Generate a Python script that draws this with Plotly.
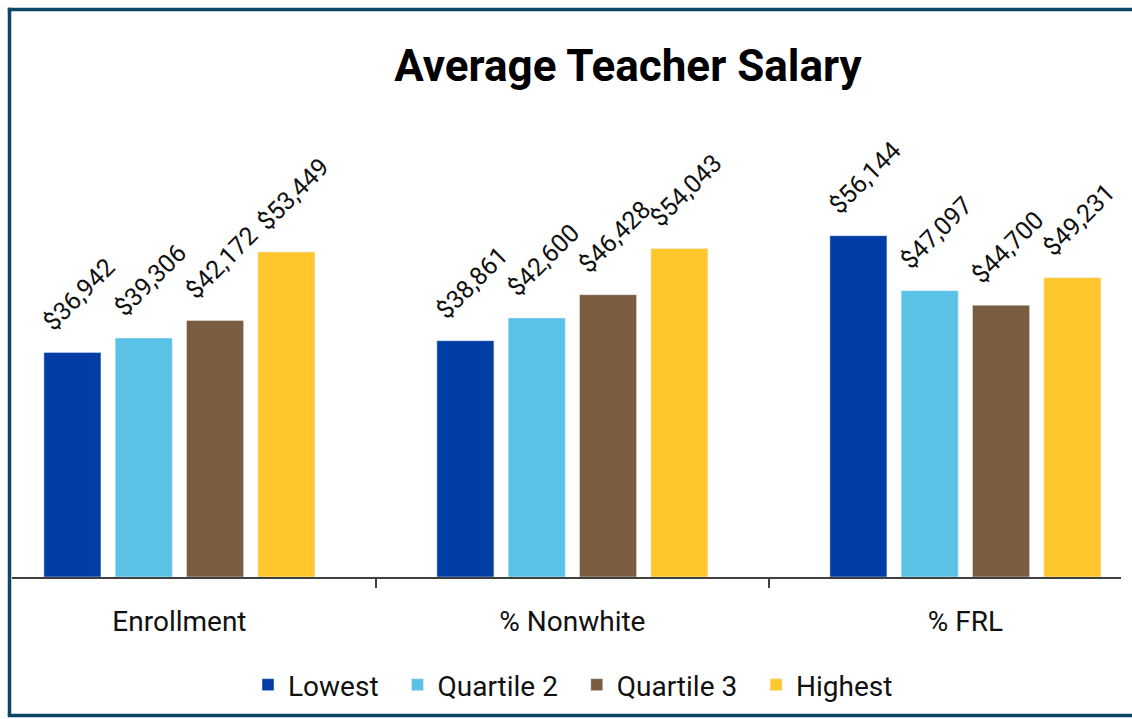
import plotly.graph_objects as go

categories = ["Enrollment", "% Nonwhite", "% FRL"]
series_names = ["Lowest", "Quartile 2", "Quartile 3", "Highest"]
lowest = [36942, 38861, 56144]
quartile2 = [39306, 42600, 47097]
quartile3 = [42172, 46428, 44700]
highest = [53449, 54043, 49231]
colors = ["#003DA5", "#5BC2E7", "#7A5C3E", "#FFC72C"]

FONT = "Roboto, Liberation Sans, Arial, sans-serif"
NB = "\u00a0"

W, H = 1132, 719
L, T, B = 12, 100, 142
PW, PH = W - L, H - T - B
AXIS_Y = H - B

fig = go.Figure()
all_series = [lowest, quartile2, quartile3, highest]
for i, (name, vals, col) in enumerate(zip(series_names, all_series, colors)):
    legend_name = name + (NB * 2 if i < len(series_names) - 1 else "")
    fig.add_trace(go.Bar(
        name=legend_name, x=categories, y=vals, marker_color=col,
        text=[NB * 3 + f"${v:,}" for v in vals], textposition="outside", textangle=-45,
        constraintext="none", cliponaxis=False,
        textfont=dict(family=FONT, size=25, color="#111111"),
    ))

px = lambda x: (x - L) / PW
py = lambda y: (AXIS_Y - y) / PH
border = dict(color="#0C4566", width=3.5)

fig.update_layout(
    width=W, height=H,
    margin=dict(l=L, r=0, t=T, b=B),
    paper_bgcolor="white", plot_bgcolor="white",
    barmode="group", bargap=0.274, bargroupgap=0.2,
    title=dict(text="<b>Average Teacher Salary</b>", x=628 / W, xanchor="center",
               y=1 - 66 / H, yanchor="middle",
               font=dict(family=FONT, size=44, color="black")),
    showlegend=True,
    legend=dict(orientation="h", x=px(573), xanchor="center",
                y=py(685), yanchor="middle",
                font=dict(family=FONT, size=28, color="#111111"),
                traceorder="normal"),
    xaxis=dict(type="category", range=[-0.426, 2.424], showline=True, linecolor="#404040",
               linewidth=2, ticks="outside", tickson="boundaries", ticklen=9, tickwidth=2,
               tickcolor="#404040", showgrid=False,
               tickfont=dict(family=FONT, size=28, color="#111111"), ticklabelstandoff=18),
    yaxis=dict(range=[0, 78450], visible=False, showgrid=False, zeroline=False),
    shapes=[
        dict(type="rect", xref="paper", yref="paper", x0=px(1121), x1=px(W + 20),
             y0=py(H + 10), y1=py(-10), fillcolor="white", line=dict(width=0),
             layer="above"),
        dict(type="line", xref="paper", yref="paper", x0=px(9.5), x1=px(9.5),
             y0=py(715.5), y1=py(7.8), line=border, layer="above"),
        dict(type="line", xref="paper", yref="paper", x0=px(7.8), x1=px(W + 20),
             y0=py(9.5), y1=py(9.5), line=border, layer="above"),
        dict(type="line", xref="paper", yref="paper", x0=px(7.8), x1=px(W + 20),
             y0=py(715.5), y1=py(715.5), line=border, layer="above"),
    ],
)

fig.write_html(
    "out.html",
    config={"displayModeBar": False},
    post_script="document.body.style.margin='0';"
                "document.documentElement.style.overflow='hidden';"
                "document.body.style.overflow='hidden';",
)
